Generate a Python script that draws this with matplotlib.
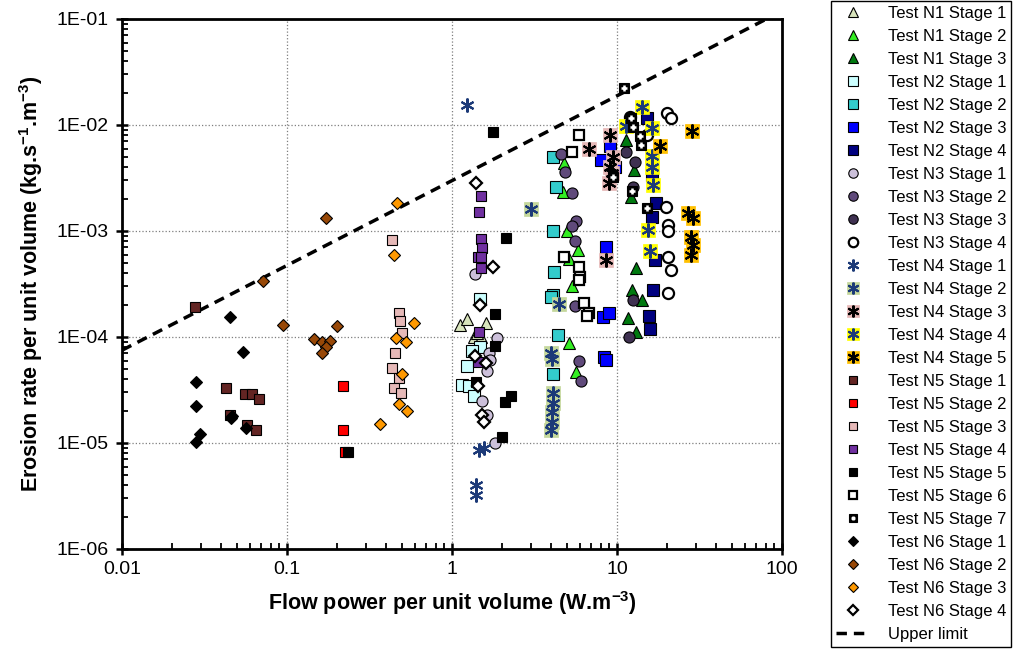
import matplotlib
matplotlib.use("Agg")
import matplotlib.pyplot as plt
from matplotlib.ticker import FixedLocator, FuncFormatter, LogLocator, NullFormatter
from matplotlib.legend_handler import HandlerTuple

plt.rcParams['font.family'] = ['Liberation Sans', 'DejaVu Sans']
plt.rcParams['mathtext.fontset'] = 'custom'
plt.rcParams['mathtext.rm'] = 'Liberation Sans'
plt.rcParams['mathtext.bf'] = 'Liberation Sans:bold'

# ---- data (flow power W/m3, erosion rate kg/s/m3) ----
n1s1_x = [1.12, 1.23, 1.60, 1.36, 1.49, 1.42]
n1s1_y = [1.30e-4, 1.47e-4, 1.36e-4, 1.0e-4, 9.9e-5, 1.1e-4]
n1s2_x = [4.8, 4.73, 5.0, 5.78, 5.14, 5.37, 5.14, 5.65]
n1s2_y = [4.35e-3, 2.35e-3, 1.0e-3, 6.6e-4, 5.5e-4, 3.0e-4, 8.7e-5, 4.7e-5]
n1s3_x = [11.4, 12.6, 12.1, 13.1, 12.4, 14.1, 11.7, 13.1]
n1s3_y = [7.2e-3, 3.76e-3, 2.1e-3, 4.45e-4, 2.77e-4, 2.23e-4, 1.51e-4, 1.12e-4]

n2s1_x = [1.47, 1.47, 1.32, 1.23, 1.15, 1.27, 1.36]
n2s1_y = [2.3e-4, 8.1e-5, 7.3e-5, 5.3e-5, 3.52e-5, 3.45e-5, 2.8e-5]
n2s2_x = [4.07, 4.27, 4.07, 4.17, 4.07, 4.0, 4.37, 4.10]
n2s2_y = [4.96e-3, 2.62e-3, 1.0e-3, 4.1e-4, 2.5e-4, 2.4e-4, 1.05e-4, 4.5e-5]
n2s3_x = [8.0, 9.1, 9.7, 8.6, 8.2, 8.9, 8.3, 8.6]
n2s3_y = [4.7e-3, 6.3e-3, 4.0e-3, 7.1e-4, 1.53e-4, 1.67e-4, 6.45e-5, 6.1e-5]
n2s4_x = [15.2, 16.2, 17.3, 16.4, 17.0, 16.6, 15.7, 15.9]
n2s4_y = [1.16e-2, 3.37e-3, 1.85e-3, 1.36e-3, 5.3e-4, 2.77e-4, 1.58e-4, 1.19e-4]

n3s1_x = [1.37, 1.88, 1.67, 1.70, 1.62, 1.52, 1.64, 1.81]
n3s1_y = [3.9e-4, 9.7e-5, 7.0e-5, 6.1e-5, 4.8e-5, 2.5e-5, 1.84e-5, 1.0e-5]
n3s2_x = [4.57, 4.84, 5.32, 5.65, 5.34, 5.6, 5.55, 5.86, 6.08]
n3s2_y = [5.3e-3, 3.63e-3, 2.27e-3, 1.24e-3, 1.12e-3, 8.1e-4, 1.96e-4, 5.94e-5, 3.85e-5]
n3s3_x = [11.4, 12.9, 12.5, 12.5, 11.9]
n3s3_y = [5.6e-3, 4.5e-3, 2.62e-3, 2.23e-4, 1.0e-4]
n3s4_x = [20.0, 21.1, 12.0, 15.1, 19.8, 20.5, 20.5, 20.3, 21.3, 20.5]
n3s4_y = [1.3e-2, 1.16e-2, 1.2e-2, 8.05e-3, 1.7e-3, 1.14e-3, 1.0e-3, 5.7e-4, 4.3e-4, 2.62e-4]

n4s1_x = [1.23, 1.45, 1.56, 1.39, 1.39]
n4s1_y = [1.55e-2, 8.6e-6, 8.9e-6, 4.0e-6, 3.24e-6]
n4s2_x = [3.03, 4.47, 3.98, 4.03, 4.11, 4.11, 4.06, 4.03, 4.0]
n4s2_y = [1.6e-3, 2.05e-4, 7.0e-5, 6.2e-5, 2.94e-5, 2.37e-5, 1.98e-5, 1.59e-5, 1.33e-5]
n4s3_x = [9.1, 6.77, 9.45, 9.1, 9.27, 9.0, 8.6]
n4s3_y = [8.05e-3, 5.9e-3, 5.0e-3, 4.0e-3, 3.5e-3, 2.82e-3, 5.3e-4]
n4s4_x = [14.1, 11.3, 16.2, 16.4, 16.4, 16.6, 15.5, 15.9]
n4s4_y = [1.47e-2, 9.8e-3, 9.3e-3, 5.1e-3, 4.0e-3, 2.7e-3, 1.03e-3, 6.5e-4]
n4s5_x = [28.4, 18.2, 27.0, 28.8, 28.2, 28.9, 28.0]
n4s5_y = [8.8e-3, 6.3e-3, 1.49e-3, 1.32e-3, 8.8e-4, 7.4e-4, 5.9e-4]

n5s1_x = [0.0278, 0.0429, 0.0557, 0.0617, 0.0678, 0.0449, 0.0576, 0.0647]
n5s1_y = [1.93e-4, 3.28e-5, 2.92e-5, 2.92e-5, 2.62e-5, 1.84e-5, 1.47e-5, 1.32e-5]
n5s2_x = [0.22, 0.22, 0.224]
n5s2_y = [3.45e-5, 1.33e-5, 8.2e-6]
n5s3_x = [0.435, 0.476, 0.482, 0.495, 0.452, 0.43, 0.478, 0.448, 0.49]
n5s3_y = [8.2e-4, 1.69e-4, 1.43e-4, 1.08e-4, 7.1e-5, 5.1e-5, 4.1e-5, 3.3e-5, 2.95e-5]
n5s4_x = [1.5, 1.46, 1.49, 1.52, 1.44, 1.5, 1.49, 1.46, 1.44]
n5s4_y = [2.15e-3, 1.5e-3, 8.4e-4, 6.9e-4, 5.65e-4, 5.65e-4, 4.5e-4, 1.12e-4, 5.85e-5]
n5s5_x = [1.77, 2.11, 1.81, 1.81, 1.39, 2.29, 2.09, 2.0, 0.234]
n5s5_y = [8.5e-3, 8.5e-4, 1.64e-4, 8.3e-5, 3.8e-5, 2.8e-5, 2.45e-5, 1.15e-5, 8.2e-6]
n5s6_x = [5.91, 5.37, 4.8, 5.91, 5.99, 5.88, 6.3, 6.77, 6.6]
n5s6_y = [8.05e-3, 5.6e-3, 5.7e-4, 4.6e-4, 3.7e-4, 3.45e-4, 2.08e-4, 1.7e-4, 1.58e-4]
n5s7_x = [11.1, 9.45, 12.1, 12.5, 13.7, 13.9, 12.4, 15.1]
n5s7_y = [2.22e-2, 3.25e-3, 1.16e-2, 9.6e-3, 7.8e-3, 6.5e-3, 2.4e-3, 1.64e-3]

n6s1_x = [0.0449, 0.0541, 0.0279, 0.0279, 0.0456, 0.0465, 0.0299, 0.0279, 0.0567]
n6s1_y = [1.55e-4, 7.2e-5, 3.73e-5, 2.22e-5, 1.71e-5, 1.8e-5, 1.22e-5, 1.02e-5, 1.39e-5]
n6s2_x = [0.173, 0.0717, 0.094, 0.145, 0.162, 0.181, 0.173, 0.162, 0.202]
n6s2_y = [1.32e-3, 3.37e-4, 1.31e-4, 9.6e-5, 9.0e-5, 9.2e-5, 8.1e-5, 7.1e-5, 1.26e-4]
n6s3_x = [0.467, 0.443, 0.589, 0.458, 0.524, 0.495, 0.476, 0.53, 0.366]
n6s3_y = [1.85e-3, 6.0e-4, 1.35e-4, 9.7e-5, 8.9e-5, 4.5e-5, 2.33e-5, 2.0e-5, 1.51e-5]
n6s4_x = [1.4, 1.78, 1.47, 1.37, 1.6, 1.44, 1.52, 1.56]
n6s4_y = [2.86e-3, 4.6e-4, 2.0e-4, 6.6e-5, 5.65e-5, 3.45e-5, 1.84e-5, 1.59e-5]

# upper limit line end points
ul_x = [0.01, 100]
ul_y = [7.5e-5, 0.119]

x_ticks = [0.01, 0.1, 1, 10, 100]
x_ticklabels = ['0.01', '0.1', '1', '10', '100']
y_ticks = [1e-6, 1e-5, 1e-4, 1e-3, 1e-2, 1e-1]
y_ticklabels = ['1E-06', '1E-05', '1E-04', '1E-03', '1E-02', '1E-01']

STAR = (6, 2, 0)
NAVY = '#1c3a78'

# label, x, y, marker, face, edge, size, edge width, background colour
series = [
    ('Test N1 Stage 1', n1s1_x, n1s1_y, '^', '#d8e4bc', 'k', 8.5, 0.8, None),
    ('Test N1 Stage 2', n1s2_x, n1s2_y, '^', '#33ee22', 'k', 8.5, 0.8, None),
    ('Test N1 Stage 3', n1s3_x, n1s3_y, '^', '#007a10', 'k', 8.5, 0.8, None),
    ('Test N2 Stage 1', n2s1_x, n2s1_y, 's', '#ccffff', 'k', 8, 0.8, None),
    ('Test N2 Stage 2', n2s2_x, n2s2_y, 's', '#33cccc', 'k', 8, 0.8, None),
    ('Test N2 Stage 3', n2s3_x, n2s3_y, 's', '#0000ff', 'k', 8, 0.8, None),
    ('Test N2 Stage 4', n2s4_x, n2s4_y, 's', '#000080', 'k', 8, 0.8, None),
    ('Test N3 Stage 1', n3s1_x, n3s1_y, 'o', '#ccc0da', 'k', 8, 0.8, None),
    ('Test N3 Stage 2', n3s2_x, n3s2_y, 'o', '#604a7b', 'k', 8, 0.8, None),
    ('Test N3 Stage 3', n3s3_x, n3s3_y, 'o', '#3f3151', 'k', 8, 0.8, None),
    ('Test N3 Stage 4', n3s4_x, n3s4_y, 'o', 'white', 'k', 8, 1.6, None),
    ('Test N4 Stage 1', n4s1_x, n4s1_y, STAR, NAVY, NAVY, 10, 1.5, None),
    ('Test N4 Stage 2', n4s2_x, n4s2_y, STAR, NAVY, NAVY, 10, 1.5, '#c4d79b'),
    ('Test N4 Stage 3', n4s3_x, n4s3_y, STAR, 'k', 'k', 10, 1.5, '#e6b8b7'),
    ('Test N4 Stage 4', n4s4_x, n4s4_y, STAR, NAVY, NAVY, 10, 1.5, '#ffff00'),
    ('Test N4 Stage 5', n4s5_x, n4s5_y, STAR, 'k', 'k', 10, 1.5, '#ffc000'),
    ('Test N5 Stage 1', n5s1_x, n5s1_y, 's', '#632523', 'k', 6.5, 0.8, None),
    ('Test N5 Stage 2', n5s2_x, n5s2_y, 's', '#ff0000', 'k', 6.5, 0.8, None),
    ('Test N5 Stage 3', n5s3_x, n5s3_y, 's', '#e6b9b8', 'k', 6.5, 0.8, None),
    ('Test N5 Stage 4', n5s4_x, n5s4_y, 's', '#7030a0', 'k', 6.5, 0.8, None),
    ('Test N5 Stage 5', n5s5_x, n5s5_y, 's', 'black', 'k', 6.5, 0.8, None),
    ('Test N5 Stage 6', n5s6_x, n5s6_y, 's', 'white', 'k', 6.5, 1.6, None),
    ('Test N5 Stage 7', n5s7_x, n5s7_y, 's', 'black', 'k', 6.5, 0.8, 'plus'),
    ('Test N6 Stage 1', n6s1_x, n6s1_y, 'D', 'black', 'k', 6, 0.8, None),
    ('Test N6 Stage 2', n6s2_x, n6s2_y, 'D', '#984807', 'k', 6, 0.8, None),
    ('Test N6 Stage 3', n6s3_x, n6s3_y, 'D', '#ff9900', 'k', 6, 0.8, None),
    ('Test N6 Stage 4', n6s4_x, n6s4_y, 'D', 'white', 'k', 6, 1.6, None),
]

fig = plt.figure(figsize=(10.21, 6.57), dpi=100)
ax = fig.add_axes([122 / 1021, 1 - 549 / 657, 660 / 1021, 530 / 657])
ax.set_xscale('log')
ax.set_yscale('log')
ax.set_xlim(0.01, 100)
ax.set_ylim(1e-6, 1e-1)

handles = []
labels = []
for label, xs, ys, mk, fc, ec, ms, mew, bg in series:
    if bg == 'plus':
        h1, = ax.plot(xs, ys, ls='none', marker=mk, ms=ms, mfc=fc, mec=ec,
                      mew=mew, zorder=3)
        h2, = ax.plot(xs, ys, ls='none', marker='+', ms=ms * 0.6, mec='white',
                      mew=1.8, zorder=3)
        handles.append((h1, h2))
    elif bg is not None:
        h1, = ax.plot(xs, ys, ls='none', marker='s', ms=ms * 0.95, mfc=bg,
                      mec=bg, mew=0.5, zorder=3)
        h2, = ax.plot(xs, ys, ls='none', marker=mk, ms=ms, mfc=fc, mec=ec,
                      mew=mew, zorder=3)
        handles.append((h1, h2))
    else:
        h, = ax.plot(xs, ys, ls='none', marker=mk, ms=ms, mfc=fc, mec=ec,
                     mew=mew, zorder=3)
        handles.append(h)
    labels.append(label)

ul, = ax.plot(ul_x, ul_y, color='black', lw=2.5, ls=(0, (3, 2)), zorder=2)
handles.append(ul)
labels.append('Upper limit')

# axes styling
ax.grid(True, which='major', color='#7f7f7f', ls=':', lw=0.9)
for sp in ax.spines.values():
    sp.set_linewidth(2)
ax.xaxis.set_major_locator(FixedLocator(x_ticks))
ax.xaxis.set_major_formatter(FuncFormatter(
    lambda v, p: x_ticklabels[x_ticks.index(v)] if v in x_ticks else ''))
ax.yaxis.set_major_locator(FixedLocator(y_ticks))
ax.yaxis.set_major_formatter(FuncFormatter(
    lambda v, p: y_ticklabels[y_ticks.index(v)] if v in y_ticks else ''))
ax.xaxis.set_minor_locator(LogLocator(base=10, subs=range(2, 10)))
ax.yaxis.set_minor_locator(LogLocator(base=10, subs=range(2, 10)))
ax.xaxis.set_minor_formatter(NullFormatter())
ax.yaxis.set_minor_formatter(NullFormatter())
ax.tick_params(which='major', direction='inout', length=9, width=1.8,
               labelsize=14, pad=4)
ax.tick_params(axis='y', which='major', pad=5)
ax.tick_params(which='minor', direction='in', length=4, width=1.3)

ax.set_xlabel(r'Flow power per unit volume (W.m$^{\mathbf{-3}}$)',
              fontsize=15.5, fontweight='bold', labelpad=8)
ax.set_ylabel(r'Erosion rate per unit volume (kg.s$^{\mathbf{-1}}$.m$^{\mathbf{-3}}$)',
              fontsize=15.5, fontweight='bold', labelpad=8)

leg = fig.legend(handles, labels, loc='upper left',
                 bbox_to_anchor=(831 / 1021, 0.999), fontsize=12,
                 frameon=True, fancybox=False, edgecolor='black',
                 framealpha=1, borderpad=0.3, labelspacing=0.48,
                 handlelength=2.0, handletextpad=1.1, borderaxespad=0,
                 markerscale=0.85,
                 handler_map={tuple: HandlerTuple(ndivide=1)})
leg.get_frame().set_linewidth(1.0)

fig.savefig('out.png', dpi=100)
